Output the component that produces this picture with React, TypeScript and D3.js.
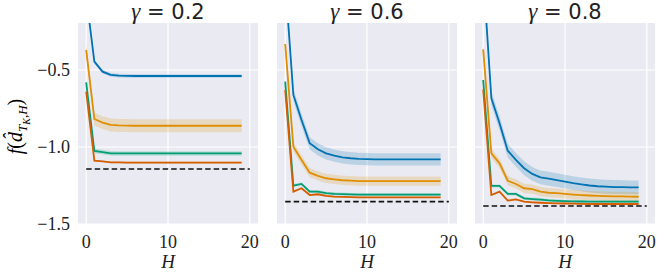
import React, { useEffect, useRef } from "react";
import * as d3 from "d3";

// horizon H
const horizons = d3.range(0, 20);
const gammaTitles = ["0.2", "0.6", "0.8"];
const colors = ["#0173b2", "#de8f05", "#029e73", "#d55e00"];
const yTicks = [-0.5, -1.0, -1.5];
const xTicks = [0, 10, 20];

// gamma = 0.2
const g02Blue = [-0.02, -0.446, -0.511, -0.532, -0.537, -0.538, -0.539, -0.539, -0.539, -0.539, -0.539, -0.539, -0.539, -0.539, -0.539, -0.539, -0.539, -0.539, -0.539, -0.539];
const g02Orange = [-0.37, -0.818, -0.842, -0.857, -0.86, -0.861, -0.862, -0.862, -0.862, -0.862, -0.862, -0.862, -0.862, -0.862, -0.862, -0.862, -0.862, -0.862, -0.862, -0.862];
const g02Green = [-0.58, -1.026, -1.033, -1.041, -1.042, -1.042, -1.042, -1.042, -1.042, -1.042, -1.042, -1.042, -1.042, -1.042, -1.042, -1.042, -1.042, -1.042, -1.042, -1.042];
const g02Red = [-0.64, -1.089, -1.093, -1.1, -1.1, -1.101, -1.101, -1.101, -1.101, -1.101, -1.101, -1.101, -1.101, -1.101, -1.101, -1.101, -1.101, -1.101, -1.101, -1.101];
const g02Err = [0.012, 0.042, 0.015, 0.006];
const g02Opt = -1.143;

// gamma = 0.6
const g06Blue = [0.08, -0.662, -0.825, -0.976, -1.015, -1.041, -1.056, -1.067, -1.073, -1.077, -1.079, -1.08, -1.08, -1.08, -1.08, -1.08, -1.08, -1.08, -1.08, -1.08];
const g06Orange = [-0.331, -0.998, -1.084, -1.167, -1.188, -1.203, -1.21, -1.216, -1.219, -1.221, -1.221, -1.222, -1.222, -1.222, -1.222, -1.222, -1.222, -1.222, -1.222, -1.222];
const g06Green = [-0.576, -1.251, -1.24, -1.29, -1.29, -1.3, -1.304, -1.306, -1.308, -1.309, -1.309, -1.309, -1.309, -1.309, -1.309, -1.309, -1.309, -1.309, -1.309, -1.309];
const g06Red = [-0.63, -1.29, -1.268, -1.312, -1.307, -1.318, -1.322, -1.324, -1.326, -1.327, -1.327, -1.327, -1.327, -1.327, -1.327, -1.327, -1.327, -1.327, -1.327, -1.327];
const g06Err = [0.04, 0.03, 0.01, 0.006];
const g06Opt = -1.355;

// gamma = 0.8
const g08Blue = [0.13, -0.684, -0.846, -1.024, -1.084, -1.138, -1.175, -1.197, -1.206, -1.215, -1.225, -1.235, -1.243, -1.25, -1.255, -1.258, -1.26, -1.261, -1.262, -1.262];
const g08Orange = [-0.366, -1.041, -1.106, -1.219, -1.24, -1.268, -1.273, -1.29, -1.297, -1.3, -1.305, -1.309, -1.312, -1.315, -1.317, -1.319, -1.32, -1.321, -1.322, -1.323];
const g08Green = [-0.565, -1.253, -1.253, -1.305, -1.305, -1.333, -1.338, -1.342, -1.347, -1.35, -1.352, -1.353, -1.354, -1.355, -1.355, -1.355, -1.355, -1.355, -1.355, -1.355];
const g08Red = [-0.626, -1.312, -1.29, -1.348, -1.34, -1.355, -1.359, -1.362, -1.364, -1.366, -1.367, -1.368, -1.369, -1.37, -1.37, -1.37, -1.37, -1.37, -1.37, -1.37];
const g08Err = [0.045, 0.03, 0.01, 0.006];
const g08Opt = -1.383;

const panelSeries = [
  [g02Blue, g02Orange, g02Green, g02Red],
  [g06Blue, g06Orange, g06Green, g06Red],
  [g08Blue, g08Orange, g08Green, g08Red],
];
const panelErr = [g02Err, g06Err, g08Err];
const panelOpt = [g02Opt, g06Opt, g08Opt];

export default function App() {
  const ref = useRef<SVGSVGElement>(null);

  useEffect(() => {
    document.body.style.margin = "0";
    const svg = d3.select(ref.current);
    svg.selectAll("*").remove();

    const lefts = [78, 277, 475];
    const w = 180, top = 23, h = 201;
    const serif = "Liberation Serif";

    const y = d3.scaleLinear().domain([-1.5, -0.195]).range([top + h, top]);

    // y label
    const yl = svg.append("text")
      .attr("transform", `translate(22, ${top + h / 2 + 3}) rotate(-90)`)
      .attr("text-anchor", "middle")
      .attr("font-family", serif)
      .attr("font-size", 20);
    yl.append("tspan").attr("font-style", "italic").text("f");
    yl.append("tspan").text("(");
    yl.append("tspan").attr("font-style", "italic").text("d\u0302");
    yl.append("tspan").attr("font-style", "italic").attr("font-size", 13).attr("dy", 5).text("T");
    yl.append("tspan").attr("font-style", "italic").attr("font-size", 10).attr("dy", 3).text("K");
    yl.append("tspan").attr("font-style", "italic").attr("font-size", 13).attr("dy", -3).text(",H");
    yl.append("tspan").attr("dy", -5).text(")");

    lefts.forEach((left, p) => {
      const x = d3.scaleLinear().domain([-1, 21]).range([left, left + w]);
      const g = svg.append("g");

      g.append("rect").attr("x", left).attr("y", top).attr("width", w).attr("height", h).attr("fill", "#eaeaf2");

      const clipId = `clip${p}`;
      g.append("clipPath").attr("id", clipId)
        .append("rect").attr("x", left).attr("y", top).attr("width", w).attr("height", h);

      // grid
      g.selectAll(".xg").data(xTicks).join("line")
        .attr("class", "xg")
        .attr("x1", d => x(d)).attr("x2", d => x(d))
        .attr("y1", top).attr("y2", top + h)
        .attr("stroke", "#fff").attr("stroke-width", 1.2);
      g.selectAll(".yg").data(yTicks).join("line")
        .attr("class", "yg")
        .attr("x1", left).attr("x2", left + w)
        .attr("y1", d => y(d)).attr("y2", d => y(d))
        .attr("stroke", "#fff").attr("stroke-width", 1.2);

      const plot = g.append("g").attr("clip-path", `url(#${clipId})`);
      const series = panelSeries[p];
      const errs = panelErr[p];

      series.forEach((vals, i) => {
        const area = d3.area<number>()
          .x((d, j) => x(horizons[j]))
          .y0(d => y(d - errs[i]))
          .y1(d => y(d + errs[i]));
        plot.append("path").attr("d", area(vals)!)
          .attr("fill", colors[i]).attr("fill-opacity", 0.2);
      });
      series.forEach((vals, i) => {
        const line = d3.line<number>()
          .x((d, j) => x(horizons[j]))
          .y(d => y(d));
        plot.append("path").attr("d", line(vals)!)
          .attr("fill", "none").attr("stroke", colors[i]).attr("stroke-width", 1.8);
      });

      // optimum
      plot.append("line")
        .attr("x1", x(0)).attr("x2", x(20))
        .attr("y1", y(panelOpt[p])).attr("y2", y(panelOpt[p]))
        .attr("stroke", "#111").attr("stroke-width", 1.7)
        .attr("stroke-dasharray", "5.5,3");

      // x tick labels
      g.selectAll(".xt").data(xTicks).join("text")
        .attr("class", "xt")
        .attr("x", d => x(d)).attr("y", 248)
        .attr("text-anchor", "middle")
        .attr("font-family", serif).attr("font-size", 18)
        .attr("fill", "#222")
        .text(d => String(d));

      if (p === 0) {
        g.selectAll(".yt").data(yTicks).join("text")
          .attr("class", "yt")
          .attr("x", left - 8).attr("y", d => y(d) + 6)
          .attr("text-anchor", "end")
          .attr("font-family", serif).attr("font-size", 18)
          .attr("fill", "#222")
          .text(d => "\u2212" + Math.abs(d).toFixed(1));
      }

      // x label
      g.append("text")
        .attr("x", left + w / 2).attr("y", 268)
        .attr("text-anchor", "middle")
        .attr("font-family", serif).attr("font-size", 19).attr("font-style", "italic")
        .attr("fill", "#222")
        .text("H");

      // title
      const t = g.append("text")
        .attr("x", left + w / 2).attr("y", 19)
        .attr("text-anchor", "middle")
        .attr("font-family", "DejaVu Sans").attr("font-size", 21)
        .attr("fill", "#222");
      t.append("tspan").attr("font-family", serif).attr("font-style", "italic").attr("font-size", 23).text("\u03b3");
      t.append("tspan").text(" = " + gammaTitles[p]);
    });
  }, []);

  return <svg ref={ref} width={657} height={273} style={{ display: "block" }} />;
}
